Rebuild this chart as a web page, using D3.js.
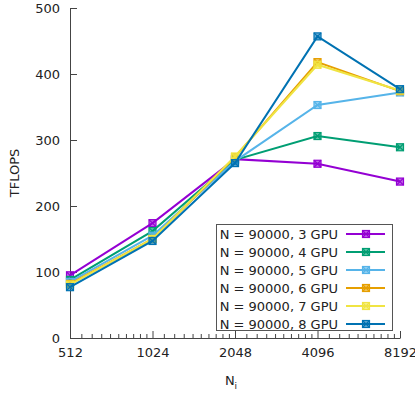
<!DOCTYPE html>
<html>
<head>
<meta charset="utf-8">
<script src="https://cdn.jsdelivr.net/npm/d3@7"></script>
<style>
  body { margin: 0; background: #fff; }
  svg { display: block; }
</style>
</head>
<body>
<svg id="svg"></svg>
<script>
const width = 415;
const height = 394;

// data
const niValues = [512, 1024, 2048, 4096, 8192];
const seriesNames = ["N = 90000, 3 GPU", "N = 90000, 4 GPU", "N = 90000, 5 GPU",
                     "N = 90000, 6 GPU", "N = 90000, 7 GPU", "N = 90000, 8 GPU"];
const gpu3 = [95, 174, 271, 264, 237];
const gpu4 = [88, 162, 270, 306, 289];
const gpu5 = [85, 155, 268, 353, 372];
const gpu6 = [82, 150, 274, 418, 374];
const gpu7 = [81, 150, 275, 414, 375];
const gpu8 = [77, 147, 265, 457, 377];
const yTicks = [0, 100, 200, 300, 400, 500];
const colors = ["#9400d3", "#009e73", "#56b4e9", "#e69f00", "#f0e442", "#0072b2"];

const allSeries = [gpu3, gpu4, gpu5, gpu6, gpu7, gpu8];
const font = "'DejaVu Sans', Verdana, sans-serif";

let svg = d3.select("#svg").attr("width", width).attr("height", height);

const margin = { top: 8, right: 15, bottom: 56, left: 70 };

let xScale = d3.scaleLog().base(2)
    .domain([512, 8192])
    .range([margin.left, width - margin.right]);

let yScale = d3.scaleLinear()
    .domain([0, 500])
    .range([height - margin.bottom, margin.top]);

// minor ticks on x (linear steps inside each octave)
let minor = [];
for (let i = 0; i < niValues.length - 1; i++) {
    for (let k = 1; k < 10; k++) minor.push(niValues[i] * (1 + k / 10));
}

svg.append("g")
    .attr("transform", `translate(0,${yScale(0)})`)
    .call(d3.axisBottom(xScale).tickValues(minor).tickSize(-4).tickFormat(""))
    .call(g => g.select(".domain").remove())
    .selectAll("line").attr("stroke", "#444");

// x-axis
svg.append("g")
    .attr("transform", `translate(0,${yScale(0)})`)
    .call(d3.axisBottom(xScale).tickValues(niValues).tickSize(-7).tickSizeOuter(0).tickPadding(10).tickFormat(d3.format("d")))
    .call(g => g.select(".domain").attr("stroke", "#444"))
    .call(g => g.selectAll("line").attr("stroke", "#444"))
    .call(g => g.selectAll("text").style("font-family", font).style("font-size", "13px").attr("fill", "#222"));

// y-axis
svg.append("g")
    .attr("transform", `translate(${xScale(512)},0)`)
    .call(d3.axisLeft(yScale).tickValues(yTicks).tickSize(-7).tickSizeOuter(0).tickPadding(10))
    .call(g => g.select(".domain").attr("stroke", "#444"))
    .call(g => g.selectAll("line").attr("stroke", "#444"))
    .call(g => g.selectAll("text").style("font-family", font).style("font-size", "13px").attr("fill", "#222"));

// axis labels
svg.append("text")
    .attr("transform", `translate(19,${(yScale(0) + yScale(500)) / 2}) rotate(-90)`)
    .attr("text-anchor", "middle")
    .style("font-family", font).style("font-size", "13px").attr("fill", "#222")
    .text("TFLOPS");

let xl = svg.append("text")
    .attr("x", 231).attr("y", 385)
    .attr("text-anchor", "middle")
    .style("font-family", font).style("font-size", "13px").attr("fill", "#222");
xl.append("tspan").text("N");
xl.append("tspan").attr("dy", 4).style("font-size", "9px").text("i");

function drawMarker(g, x, y, color) {
    const s = 3.5;
    g.append("rect")
        .attr("x", x - s).attr("y", y - s)
        .attr("width", 2 * s).attr("height", 2 * s)
        .attr("fill", color).attr("fill-opacity", 0.6)
        .attr("stroke", color).attr("stroke-width", 1.2);
    g.append("path")
        .attr("d", `M${x - s},${y - s}L${x + s},${y + s}M${x - s},${y + s}L${x + s},${y - s}`)
        .attr("stroke", color).attr("stroke-width", 1.2);
}

const line = d3.line()
    .x((d, i) => xScale(niValues[i]))
    .y(d => yScale(d));

allSeries.forEach((vals, si) => {
    let g = svg.append("g");
    g.append("path")
        .datum(vals)
        .attr("d", line)
        .attr("fill", "none")
        .attr("stroke", colors[si])
        .attr("stroke-width", 2);
    vals.forEach((v, i) => drawMarker(g, xScale(niValues[i]), yScale(v), colors[si]));
});

// legend
const legend = svg.append("g");
legend.append("rect")
    .attr("x", 216.5).attr("y", 224.5)
    .attr("width", 176).attr("height", 106)
    .attr("fill", "#fff").attr("stroke", "#555").attr("stroke-width", 1);

seriesNames.forEach((name, i) => {
    const yy = 234 + i * 18;
    legend.append("text")
        .attr("x", 338).attr("y", yy).attr("dy", "0.36em")
        .attr("text-anchor", "end")
        .style("font-family", font).style("font-size", "13px").attr("fill", "#222")
        .text(name);
    legend.append("line")
        .attr("x1", 346).attr("x2", 385).attr("y1", yy).attr("y2", yy)
        .attr("stroke", colors[i]).attr("stroke-width", 2);
    drawMarker(legend, 366, yy, colors[i]);
});
</script>
</body>
</html>
